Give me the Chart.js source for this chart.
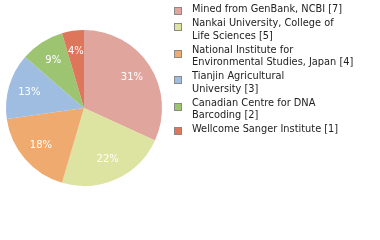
<!DOCTYPE html>
<html><head><meta charset="utf-8">
<script src="https://cdn.jsdelivr.net/npm/chart.js@4"></script>
<style>html,body{margin:0;padding:0;background:#fff;}canvas{display:block;}</style>
</head><body>
<canvas id="c" width="380" height="240"></canvas>
<script>
const institutions = ["Mined from GenBank, NCBI","Nankai University, College of Life Sciences","National Institute for Environmental Studies, Japan","Tianjin Agricultural University","Canadian Centre for DNA Barcoding","Wellcome Sanger Institute"];
const counts = [7,5,4,3,2,1];
const colors = ["#e0a69e","#dde3a0","#eeaa6f","#9ebde0","#9dc571","#dd765a"];

function wrapName(name, max){
  const words = name.split(' '); const lines=[]; let cur='';
  for(const w of words){
    const t = cur ? cur+' '+w : w;
    if(t.length > max && cur){ lines.push(cur); cur = w; } else cur = t;
  }
  if(cur) lines.push(cur);
  return lines;
}

const total = counts.reduce((a,b)=>a+b,0);

const sliceLabels = {
  id:'sliceLabels',
  afterDatasetsDraw(chart){
    const ctx = chart.ctx; const meta = chart.getDatasetMeta(0);
    ctx.save();
    ctx.font = '10px "DejaVu Sans"'; ctx.fillStyle='#fff';
    ctx.textAlign='center'; ctx.textBaseline='middle';
    meta.data.forEach((arc,i)=>{
      const mid = (arc.startAngle+arc.endAngle)/2;
      const r = arc.outerRadius*0.73;
      const pct = Math.floor(counts[i]/total*100)+'%';
      ctx.fillText(pct, arc.x+Math.cos(mid)*r, arc.y+Math.sin(mid)*r);
    });
    ctx.restore();
  }
};

const sideLegend = {
  id:'sideLegend',
  afterDraw(chart){
    const ctx = chart.ctx; ctx.save();
    ctx.font = '9.8px "DejaVu Sans"'; ctx.textBaseline='alphabetic'; ctx.textAlign='left';
    let top = 5; const lh = 12.5;
    institutions.forEach((name,i)=>{
      const lines = wrapName(name,30);
      lines[lines.length-1] += ' ['+counts[i]+']';
      const bc = top + 5.5 + (lines.length-1)*2;
      ctx.fillStyle = colors[i];
      ctx.fillRect(174.5, Math.round(bc-3.5)+0.5, 7, 7);
      ctx.strokeStyle = '#8a8a8a'; ctx.lineWidth=1;
      ctx.strokeRect(174.5, Math.round(bc-3.5)+0.5, 7, 7);
      ctx.fillStyle = '#222';
      lines.forEach((ln,j)=>{ ctx.fillText(ln, 192, top + 7.3 + j*lh); });
      top += lines.length*lh + 1.5;
    });
    ctx.restore();
  }
};

new Chart(document.getElementById('c'), {
  type:'pie',
  data:{ labels: institutions, datasets:[{ data: counts, backgroundColor: colors, borderWidth:0 }] },
  options:{
    responsive:false, animation:false,
    layout:{ padding:{ left:6, right:218, top:30, bottom:54 } },
    plugins:{ legend:{display:false}, tooltip:{enabled:false} }
  },
  plugins:[sliceLabels, sideLegend]
});
</script>
</body></html>
